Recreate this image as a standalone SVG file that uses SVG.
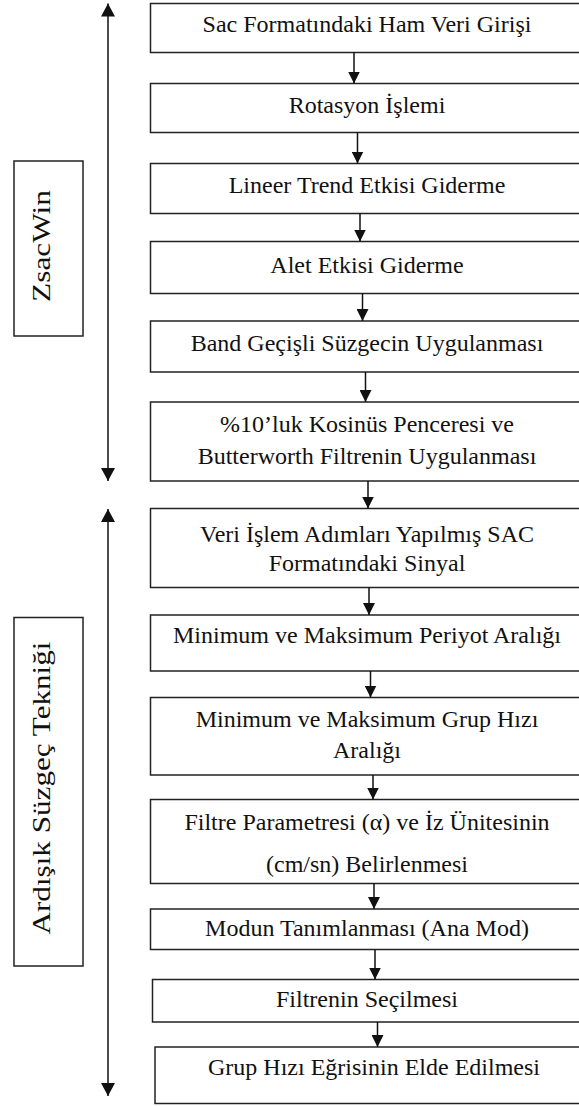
<svg xmlns="http://www.w3.org/2000/svg" width="579" height="1106" viewBox="0 0 579 1106">
<defs>
<style>
.box{fill:#fff;stroke:#222;stroke-width:1.5}
.t{font-size:24px;fill:#111;text-anchor:middle}
.rt{font-size:25px;fill:#111;text-anchor:middle}
.c{stroke:#111;stroke-width:1.5;fill:none}
</style>
<marker id="ah" markerUnits="userSpaceOnUse" markerWidth="12" markerHeight="12" refX="12" refY="6" orient="auto-start-reverse" viewBox="0 0 12 12">
<path d="M0,0 L12,6 L0,12 z" fill="#111"/>
</marker>
<marker id="ahb" markerUnits="userSpaceOnUse" markerWidth="14" markerHeight="14" refX="13" refY="7" orient="auto-start-reverse" viewBox="0 0 14 14">
<path d="M0,0 L13,7 L0,14 z" fill="#111"/>
</marker>
</defs>
<rect width="579" height="1106" fill="#fff"/>
<g font-family="Liberation Serif, Tinos, Times New Roman, DejaVu Serif, serif">
<g id="label-zsacwin">
<rect class="box" x="14" y="161" width="69" height="175"/>
<text class="rt" transform="translate(50,246) rotate(-90)" textLength="112" lengthAdjust="spacingAndGlyphs">ZsacWin</text>
</g>
<g id="label-ardisik">
<rect class="box" x="14" y="617.5" width="69" height="348.5"/>
<text class="rt" transform="translate(50,788) rotate(-90)" textLength="293" lengthAdjust="spacingAndGlyphs">Ardışık Süzgeç Tekniği</text>
</g>
<g id="n1"><rect class="box" x="150.5" y="3.5" width="440" height="49"/><text class="t" x="367" y="31.5">Sac Formatındaki Ham Veri Girişi</text></g>
<g id="n2"><rect class="box" x="150.5" y="83.5" width="440" height="49"/><text class="t" x="367" y="113">Rotasyon İşlemi</text></g>
<g id="n3"><rect class="box" x="150.5" y="163.5" width="440" height="50"/><text class="t" x="367" y="192.5">Lineer Trend Etkisi Giderme</text></g>
<g id="n4"><rect class="box" x="150.5" y="241.5" width="440" height="52"/><text class="t" x="367" y="272.5">Alet Etkisi Giderme</text></g>
<g id="n5"><rect class="box" x="150.5" y="321" width="440" height="51"/><text class="t" x="367" y="350.5">Band Geçişli Süzgecin Uygulanması</text></g>
<g id="n6"><rect class="box" x="150.5" y="402" width="440" height="79"/><text class="t" x="367" y="432">%10’luk Kosinüs Penceresi ve</text><text class="t" x="367" y="463.5">Butterworth Filtrenin Uygulanması</text></g>
<g id="n7"><rect class="box" x="150.5" y="508.5" width="440" height="79"/><text class="t" x="367" y="541.5">Veri İşlem Adımları Yapılmış SAC</text><text class="t" x="367" y="570.5">Formatındaki Sinyal</text></g>
<g id="n8"><rect class="box" x="150.5" y="615" width="440" height="56"/><text class="t" x="367" y="643">Minimum ve Maksimum Periyot Aralığı</text></g>
<g id="n9"><rect class="box" x="150.5" y="697.5" width="440" height="77.5"/><text class="t" x="367" y="726.5">Minimum ve Maksimum Grup Hızı</text><text class="t" x="367" y="758">Aralığı</text></g>
<g id="n10"><rect class="box" x="150.5" y="799.5" width="440" height="84"/><text class="t" x="367" y="830">Filtre Parametresi (α) ve İz Ünitesinin</text><text class="t" x="367" y="871.5">(cm/sn) Belirlenmesi</text></g>
<g id="n11"><rect class="box" x="150.5" y="909" width="440" height="40.5"/><text class="t" x="367" y="935.5">Modun Tanımlanması (Ana Mod)</text></g>
<g id="n12"><rect class="box" x="152.5" y="979.5" width="440" height="42.5"/><text class="t" x="367" y="1007">Filtrenin Seçilmesi</text></g>
<g id="n13"><rect class="box" x="155" y="1047" width="440" height="56.5"/><text class="t" x="374" y="1075">Grup Hızı Eğrisinin Elde Edilmesi</text></g>
</g>
<g id="connectors">
<line class="c" x1="108" y1="3.5" x2="108" y2="481" marker-start="url(#ahb)" marker-end="url(#ahb)"/>
<line class="c" x1="108" y1="509" x2="108" y2="1096" marker-start="url(#ahb)" marker-end="url(#ahb)"/>
<line class="c" x1="354" y1="52.5" x2="354" y2="83.5" marker-end="url(#ah)"/>
<line class="c" x1="357.5" y1="132.5" x2="357.5" y2="163.5" marker-end="url(#ah)"/>
<line class="c" x1="360" y1="213.5" x2="360" y2="241.5" marker-end="url(#ah)"/>
<line class="c" x1="362.5" y1="293.5" x2="362.5" y2="321" marker-end="url(#ah)"/>
<line class="c" x1="365.5" y1="372" x2="365.5" y2="402" marker-end="url(#ah)"/>
<line class="c" x1="368" y1="481" x2="368" y2="508.5" marker-end="url(#ah)"/>
<line class="c" x1="369" y1="587.5" x2="369" y2="615" marker-end="url(#ah)"/>
<line class="c" x1="370.5" y1="671" x2="370.5" y2="697.5" marker-end="url(#ah)"/>
<line class="c" x1="373" y1="775" x2="373" y2="799.5" marker-end="url(#ah)"/>
<line class="c" x1="374" y1="883.5" x2="374" y2="909" marker-end="url(#ah)"/>
<line class="c" x1="375" y1="949.5" x2="375" y2="979.5" marker-end="url(#ah)"/>
<line class="c" x1="377.5" y1="1022" x2="377.5" y2="1047" marker-end="url(#ah)"/>
</g>
</svg>
